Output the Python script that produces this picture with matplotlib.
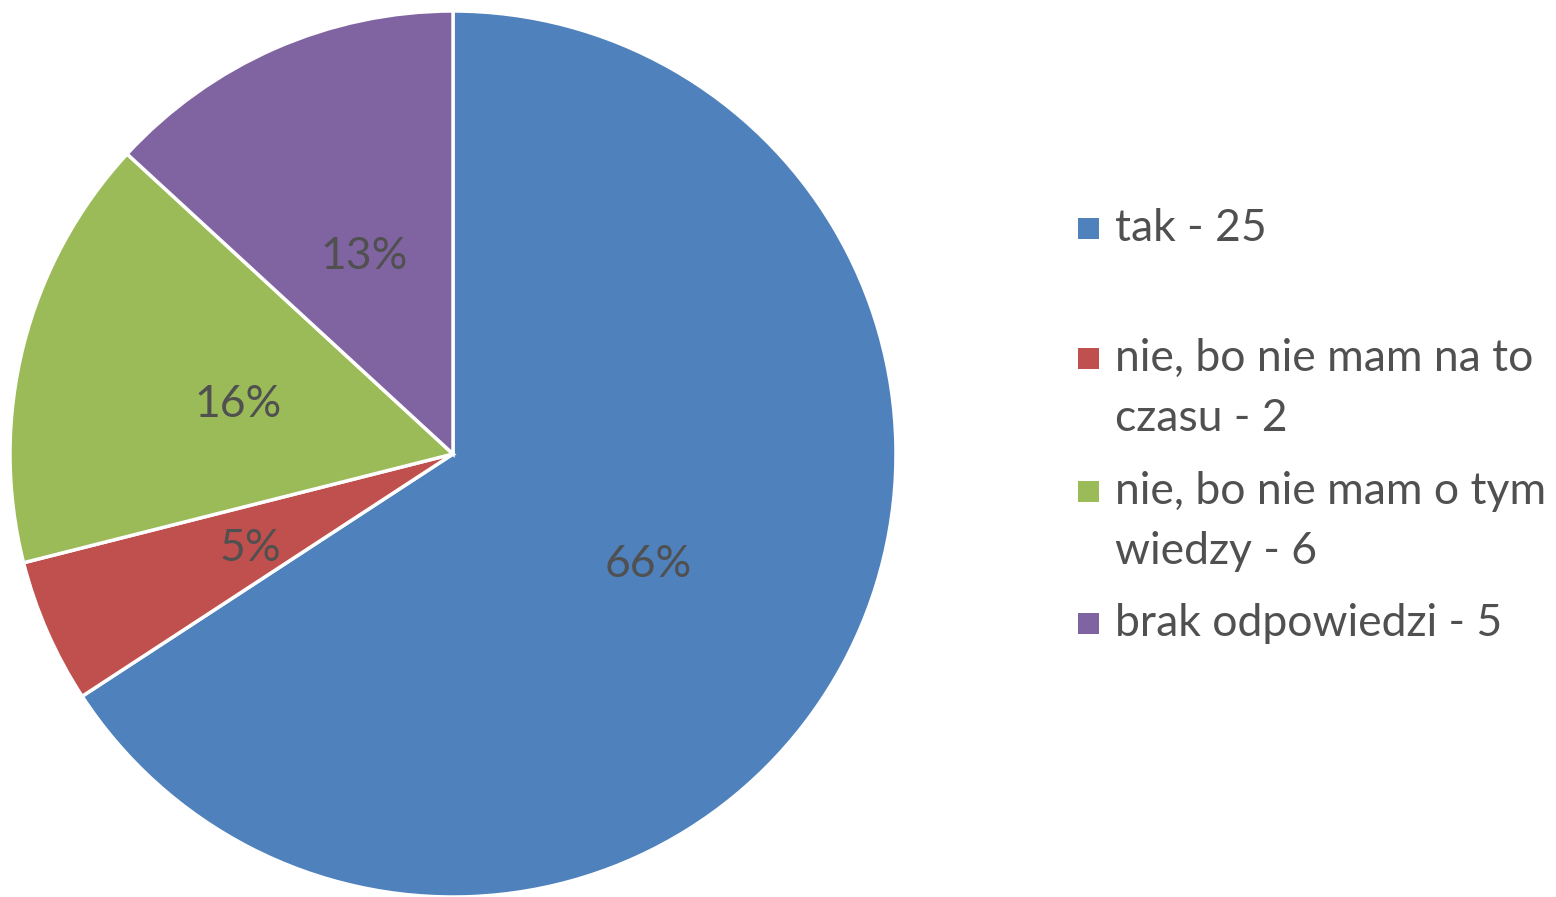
import matplotlib
matplotlib.use("Agg")
import matplotlib.pyplot as plt
from matplotlib.patches import Rectangle

# survey answers
labels = ["tak", "nie, bo nie mam na to\nczasu", "nie, bo nie mam o tym\nwiedzy", "brak odpowiedzi"]
counts = [25, 2, 6, 5]
colors = ["#4F81BD", "#C0504D", "#9BBB59", "#8064A2"]

text_color = "#505050"
plt.rcParams['font.family'] = ['Lato', 'DejaVu Sans']

W, H = 1556, 897
fig = plt.figure(figsize=(W / 100, H / 100), dpi=100)

# pie centred at (453, 454) px, radius 443 px
cx, cy, r = 453, 454, 443
ax = fig.add_axes([(cx - r) / W, (H - cy - r) / H, 2 * r / W, 2 * r / H])
wedges, _, autotexts = ax.pie(
    counts, colors=colors, startangle=90, counterclock=False,
    autopct=lambda p: f"{p:.0f}%", pctdistance=0.5,
    wedgeprops=dict(edgecolor="white", linewidth=2.5),
    textprops=dict(color=text_color, fontsize=32),
)
for t in autotexts:
    x, y = t.get_position()
    t.set_position((x, y - 0.012))
ax.set_xlim(-1, 1)
ax.set_ylim(-1, 1)
ax.set_aspect("equal")
ax.axis("off")

# legend drawn by hand, Excel style: square + wrapped label lines
legend_y = [228, 358, 491, 623]
line_step = 60
for lab, n, col, y in zip(labels, counts, colors, legend_y):
    fig.patches.append(Rectangle((1078 / W, (H - y - 11) / H), 21 / W, 21 / H,
                                 transform=fig.transFigure, facecolor=col,
                                 edgecolor="none"))
    lines = f"{lab} - {n}".split("\n")
    for i, line in enumerate(lines):
        fig.text(1115 / W, (H - y - i * line_step) / H, line, fontsize=32,
                 color=text_color, va="center", ha="left")

fig.savefig("out.png", dpi=100)
